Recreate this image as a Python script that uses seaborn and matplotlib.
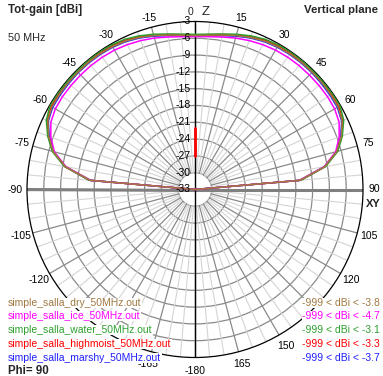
import numpy as np
import pandas as pd
import matplotlib
matplotlib.use("Agg")
import matplotlib.pyplot as plt
import matplotlib.transforms as mtransforms
import seaborn as sns

sns.set_theme(style="white")
plt.rcParams["font.family"] = ["Liberation Sans", "DejaVu Sans"]

# ── data ──────────────────────────────────────────────────
theta_deg = list(range(-90, 95, 5))

gain_dry = [-999, -14.2, -9.5, -6.8, -5.2, -4.0, -3.5, -3.45, -3.4, -3.4, -3.4, -3.45, -3.55, -3.75, -4.1, -4.55, -5.0, -5.35,
            -5.5,
            -5.35, -5.0, -4.55, -4.1, -3.75, -3.55, -3.45, -3.4, -3.4, -3.4, -3.45, -3.5, -4.0, -5.2, -6.8, -9.5, -14.2, -999]
gain_ice = [-999, -14.3, -9.6, -7.0, -5.6, -4.6, -4.2, -4.1, -4.1, -4.1, -4.1, -4.15, -4.25, -4.45, -4.7, -5.0, -5.35, -5.6,
            -5.7,
            -5.6, -5.35, -5.0, -4.7, -4.45, -4.25, -4.15, -4.1, -4.1, -4.1, -4.1, -4.2, -4.6, -5.6, -7.0, -9.6, -14.3, -999]
gain_water = [-999, -14.0, -9.3, -6.6, -5.0, -3.7, -3.1, -3.1, -3.15, -3.15, -3.1, -3.1, -3.2, -3.4, -3.8, -4.3, -4.8, -5.15,
              -5.3,
              -5.15, -4.8, -4.3, -3.8, -3.4, -3.2, -3.1, -3.1, -3.15, -3.15, -3.1, -3.1, -3.7, -5.0, -6.6, -9.3, -14.0, -999]
gain_highmoist = [-999, -14.1, -9.4, -6.7, -5.1, -3.9, -3.35, -3.3, -3.3, -3.3, -3.3, -3.3, -3.35, -3.55, -3.95, -4.45, -4.9, -5.25,
                  -5.4,
                  -5.25, -4.9, -4.45, -3.95, -3.55, -3.35, -3.3, -3.3, -3.3, -3.3, -3.3, -3.35, -3.9, -5.1, -6.7, -9.4, -14.1, -999]
gain_marshy = [-999, -14.2, -9.5, -6.8, -5.3, -4.1, -3.65, -3.6, -3.55, -3.5, -3.5, -3.55, -3.65, -3.85, -4.2, -4.65, -5.1, -5.45,
               -5.6,
               -5.45, -5.1, -4.65, -4.2, -3.85, -3.65, -3.55, -3.5, -3.5, -3.55, -3.6, -3.65, -4.1, -5.3, -6.8, -9.5, -14.2, -999]

# stray red segment on the zenith axis
spike_theta = [0, 0]
spike_gain = [-22, -27]

files = ["simple_salla_dry_50MHz.out", "simple_salla_ice_50MHz.out", "simple_salla_water_50MHz.out",
         "simple_salla_highmoist_50MHz.out", "simple_salla_marshy_50MHz.out"]
file_colors = ["#A07840", "#FF00FF", "#2EA02E", "#FF0000", "#2020FF"]
max_gain = ["-3.8", "-4.7", "-3.1", "-3.3", "-3.7"]

ring_values = list(range(-3, -36, -3))
angle_ticks = list(range(15, 360, 15))
# 0 is written separately; 135, -135 and -150 sit under the legend
angle_labels = ["15", "30", "45", "60", "75", "90", "105", "120", "", "150", "165", "-180",
                "-165", "", "", "-120", "-105", "-90", "-75", "-60", "-45", "-30", "-15"]

R_MIN, R_MAX = -33, -3

# ── figure ────────────────────────────────────────────────
W, H, DPI = 383, 376, 100
fig = plt.figure(figsize=(W / DPI, H / DPI), dpi=DPI, facecolor="white")
cx, cy, R = 195, 189.5, 168
ax = fig.add_axes([(cx - R) / W, (H - cy - R) / H, 2 * R / W, 2 * R / H], projection="polar")
ax.set_theta_zero_location("N")
ax.set_theta_direction(-1)
ax.set_facecolor("white")
ax.spines["polar"].set_color("black")
ax.spines["polar"].set_linewidth(0.9)

# rings
ax.set_yticks(ring_values[1:-1])
ax.set_yticklabels([])
ax.yaxis.grid(True, color="#8a8a8a", linewidth=0.9)
ax.xaxis.grid(False)
ax.set_xticks([])

# spokes: light every 5 deg, darker every 15 deg
for a in range(0, 360, 5):
    main = a % 15 == 0
    ax.plot([np.deg2rad(a)] * 2, [-30, R_MAX], color="#8a8a8a" if main else "#d4d4d4",
            linewidth=0.9 if main else 0.8, zorder=1)

# axes cross
ax.plot([np.pi / 2] * 2, [R_MIN, R_MAX], color="#808080", linewidth=2.2, zorder=2)
ax.plot([-np.pi / 2] * 2, [R_MIN, R_MAX], color="#808080", linewidth=2.2, zorder=2)
ax.plot([0, 0], [R_MIN, R_MAX], color="black", linewidth=1.0, zorder=2)
ax.plot([np.pi] * 2, [R_MIN, R_MAX], color="black", linewidth=1.0, zorder=2)

# patterns
series = [gain_dry, gain_ice, gain_water, gain_highmoist, gain_marshy]
df = pd.concat([
    pd.DataFrame({"theta": np.deg2rad(theta_deg), "gain": np.maximum(g, R_MIN), "file": f})
    for f, g in zip(files, series)
])
sns.lineplot(data=df, x="theta", y="gain", hue="file", hue_order=files[::-1],
             palette=dict(zip(files, file_colors)), sort=False, estimator=None,
             legend=False, linewidth=1.1, ax=ax, zorder=3)
ax.plot(np.deg2rad(spike_theta), spike_gain, color="#FF0000", linewidth=2, zorder=3)
ax.set_xlabel("")
ax.set_ylabel("")
ax.set_ylim(R_MIN, R_MAX)

# angle labels just outside the rim
for a, lab in zip(angle_ticks, angle_labels):
    t = np.deg2rad(a)
    d = 10 + 3 * (1 - np.cos(t)) / 2
    tr = mtransforms.offset_copy(ax.transData, fig=fig, x=d * np.sin(t), y=d * np.cos(t), units="dots")
    ax.text(t, R_MAX, lab, transform=tr, ha="center", va="center", fontsize=7.5, color="black")

# dB labels along the zenith axis
off = mtransforms.offset_copy(ax.transData, fig=fig, x=-4, y=0, units="dots")
for v in ring_values:
    ax.text(0, v, str(v), transform=off, ha="right", va="center", fontsize=7.5, color="black")

# ── texts ─────────────────────────────────────────────────
def px(x, y):
    return x / W, 1 - y / H

fig.text(*px(190, 12), "0", ha="center", va="center", fontsize=7.5)
fig.text(*px(206, 12), "Z", ha="center", va="center", fontsize=9.5)
fig.text(*px(373, 204), "XY", ha="center", va="center", fontsize=8, fontweight="bold")
fig.text(*px(8, 10), "Tot-gain [dBi]", ha="left", va="center", fontsize=8.3, fontweight="bold")
fig.text(*px(8, 38), "50 MHz", ha="left", va="center", fontsize=7.8)
fig.text(*px(378, 10), "Vertical plane", ha="right", va="center", fontsize=8.2, fontweight="bold")
fig.text(*px(8, 371), "Phi= 90", ha="left", va="center", fontsize=8.3, fontweight="bold")

row_y = [303, 316, 330, 344, 358]
for f, c, m, y in zip(files, file_colors, max_gain, row_y):
    box = dict(facecolor="white", edgecolor="none", pad=0.3)
    fig.text(*px(8, y), f, ha="left", va="center", fontsize=7.5, color=c, bbox=box)
    fig.text(*px(380, y), f"-999 < dBi < {m}", ha="right", va="center", fontsize=7.5, color=c, bbox=box)

fig.savefig("out.png", dpi=DPI, facecolor="white")
plt.close("all")
